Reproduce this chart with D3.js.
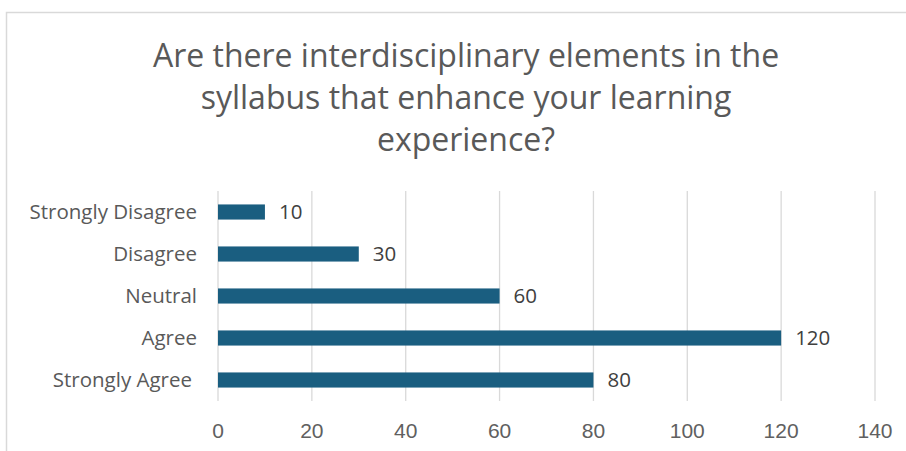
<!DOCTYPE html>
<html><head><meta charset="utf-8">
<script src="https://cdn.jsdelivr.net/npm/d3@7"></script>
<style>body{margin:0;background:#fff;} svg{display:block;font-family:"Open Sans",sans-serif;}</style>
</head><body>
<svg id="c" width="906" height="451"></svg>
<script>
const categories = ["Strongly Disagree", "Disagree", "Neutral", "Agree", "Strongly Agree"];
const values = [10, 30, 60, 120, 80];
const ticks = [0, 20, 40, 60, 80, 100, 120, 140];
const titleLines = ["Are there interdisciplinary elements in the", "syllabus that enhance your learning", "experience?"];

const svg = d3.select("#c");
svg.append("rect").attr("x",6.5).attr("y",12.5).attr("width",906).attr("height",450)
  .attr("fill","#fff").attr("stroke","#d9d9d9").attr("stroke-width",1.5);

const x = d3.scaleLinear().domain([0,140]).range([218,875]);
const y = d3.scaleBand().domain(categories).range([191,401]).paddingInner(0.64).paddingOuter(0.32);

svg.append("g").selectAll("line").data(ticks).join("line")
  .attr("x1",d=>x(d)).attr("x2",d=>x(d)).attr("y1",191).attr("y2",401)
  .attr("stroke","#d9d9d9").attr("stroke-width",1.3);

svg.append("g").selectAll("text").data(ticks).join("text")
  .attr("x",d=>x(d)).attr("y",438).attr("text-anchor","middle")
  .attr("font-family","'Liberation Sans', Arial, sans-serif")
  .attr("font-size",21).attr("fill","#606060").text(d=>d);

svg.append("g").selectAll("rect").data(values).join("rect")
  .attr("x",x(0)).attr("y",(d,i)=>y(categories[i]))
  .attr("width",d=>x(d)-x(0)).attr("height",y.bandwidth())
  .attr("fill","#1a5e80");

svg.append("g").selectAll("text").data(values).join("text")
  .attr("x",d=>x(d)+14).attr("y",(d,i)=>y(categories[i])+y.bandwidth()/2).attr("dy","0.36em")
  .attr("font-size",20.5).attr("fill","#404040").text(d=>d);

svg.append("g").selectAll("text").data(categories).join("text")
  .attr("x",d=>d==="Strongly Agree"?192:197).attr("y",d=>y(d)+y.bandwidth()/2).attr("dy","0.36em")
  .attr("text-anchor","end").attr("font-size",20.5).attr("fill","#595959").text(d=>d);

svg.append("g").selectAll("text").data(titleLines).join("text")
  .attr("x",466).attr("y",(d,i)=>67+i*42).attr("text-anchor","middle")
  .attr("font-size",32).attr("fill","#595959").text(d=>d);
</script>
</body></html>
